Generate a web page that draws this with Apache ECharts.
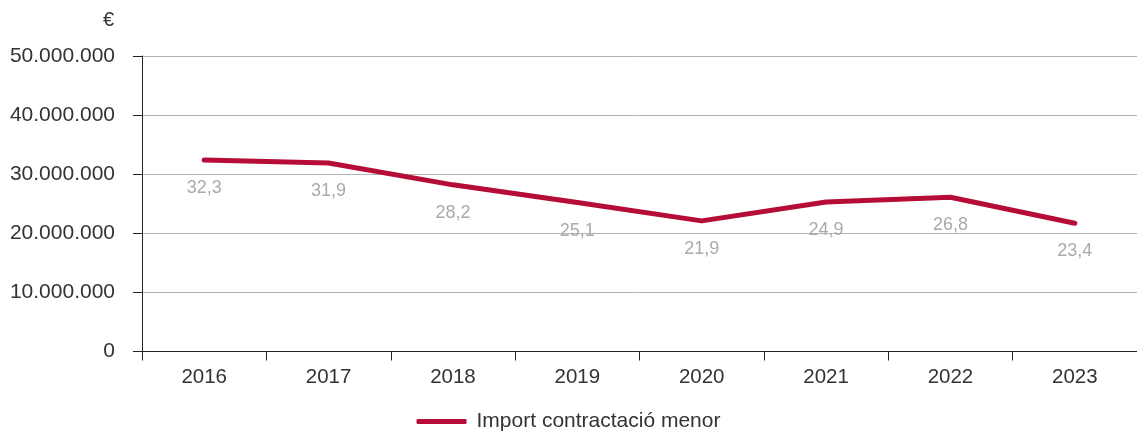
<!DOCTYPE html>
<html>
<head>
<meta charset="utf-8">
<script src="https://cdn.jsdelivr.net/npm/echarts@6/dist/echarts.min.js"></script>
<style>
  html, body { margin: 0; padding: 0; background: #fff; }
  #chart { width: 1137px; height: 441px; }
</style>
</head>
<body>
<div id="chart"></div>
<script>
var years = ['2016', '2017', '2018', '2019', '2020', '2021', '2022', '2023'];
// line values as drawn (euros)
var importValues = [32400000, 31900000, 28200000, 25200000, 22100000, 25300000, 26100000, 21700000];
// printed labels (millions)
var importLabels = ['32,3', '31,9', '28,2', '25,1', '21,9', '24,9', '26,8', '23,4'];
var seriesName = 'Import contractació menor';

var font = 'Liberation Sans, Arial, sans-serif';

function fmtThousands(v) {
    return String(v).replace(/\B(?=(\d{3})+(?!\d))/g, '.');
}

var myChart = echarts.init(document.getElementById('chart'));

var option = {
    animation: false,
    textStyle: { fontFamily: font },
    grid: {
        left: 142,
        top: 56,
        width: 999,
        height: 295.5
    },
    legend: {
        data: [seriesName],
        bottom: 4,
        left: 'center',
        icon: 'roundRect',
        itemWidth: 50,
        itemHeight: 5,
        itemGap: 10,
        textStyle: { fontSize: 21, color: '#333', fontFamily: font, padding: [0, 0, 0, 5] }
    },
    xAxis: {
        type: 'category',
        data: years,
        boundaryGap: true,
        axisLine: { lineStyle: { color: '#222', width: 1 } },
        axisTick: { show: true, length: 9, lineStyle: { color: '#222' } },
        axisLabel: { color: '#333', fontSize: 20.5, margin: 15, fontFamily: font }
    },
    yAxis: {
        type: 'value',
        min: 0,
        max: 50000000,
        interval: 10000000,
        name: '€',
        nameLocation: 'end',
        nameGap: 26,
        nameTextStyle: { color: '#333', fontSize: 20, align: 'right', padding: [0, 28, 0, 0] },
        axisLine: { show: true, lineStyle: { color: '#222', width: 1 } },
        axisTick: { show: true, length: 9, lineStyle: { color: '#222' } },
        axisLabel: {
            color: '#333',
            fontSize: 21,
            margin: 27,
            fontFamily: font,
            formatter: function (v) { return fmtThousands(v); }
        },
        splitLine: { lineStyle: { color: '#b3b3b3', width: 1 } }
    },
    series: [{
        name: seriesName,
        type: 'line',
        data: importValues,
        showSymbol: true,
        symbol: 'circle',
        symbolSize: 0,
        color: '#b50d36',
        lineStyle: { color: '#b50d36', width: 5, cap: 'round', join: 'round' },
        label: {
            show: true,
            position: 'bottom',
            distance: 19,
            color: '#aaaaaa',
            fontSize: 18,
            fontFamily: font,
            formatter: function (p) { return importLabels[p.dataIndex]; }
        }
    }]
};

myChart.setOption(option);
</script>
</body>
</html>
